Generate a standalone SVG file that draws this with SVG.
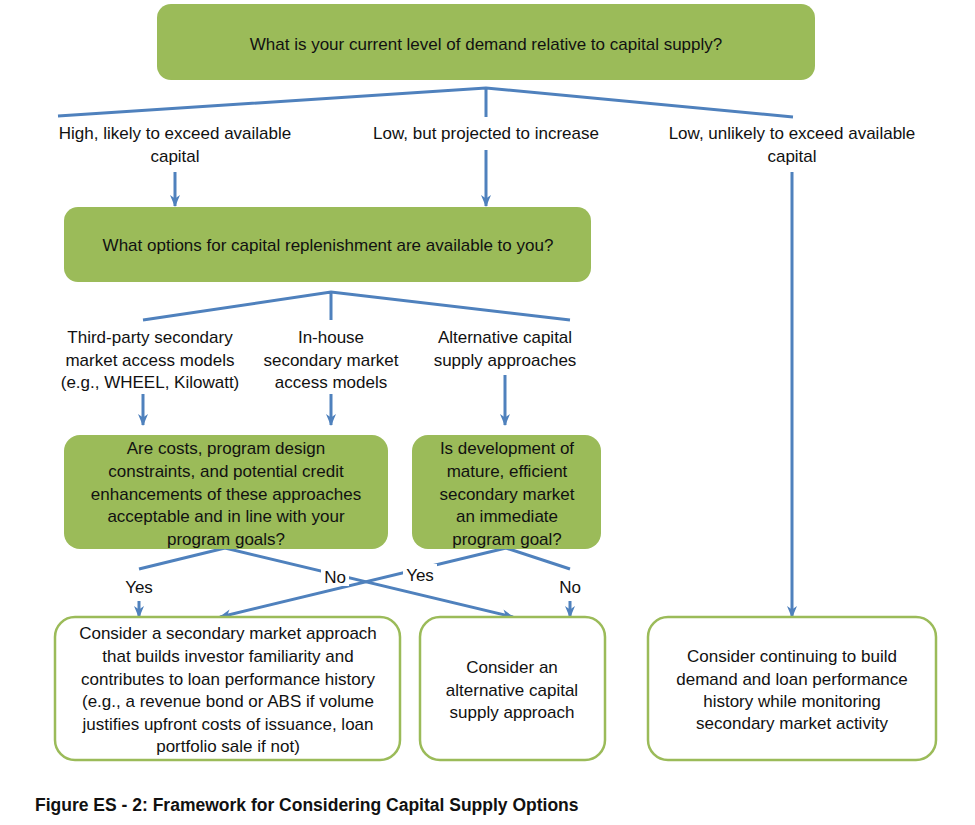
<svg xmlns="http://www.w3.org/2000/svg" width="975" height="825" viewBox="0 0 975 825">
<defs>
<marker id="ah" viewBox="0 0 12 12" refX="11" refY="6" markerWidth="12" markerHeight="12" markerUnits="userSpaceOnUse" orient="auto">
<path d="M0,1 L12,6 L0,11 L3.5,6 z" fill="#4F81BD"/>
</marker>
</defs>
<style>
text{font-family:"Liberation Sans",Arial,sans-serif;font-size:17px;fill:#111;text-anchor:middle}
.q{fill:#9BBB59}
.r{fill:#fff;stroke:#9BBB59;stroke-width:2.5}
.c{fill:none;stroke:#4F81BD;stroke-width:3}
.a{marker-end:url(#ah)}
.cap{font-weight:bold;text-anchor:start;font-size:17.5px}
</style>
<rect width="975" height="825" fill="#fff"/>
<g id="connectors">
<path class="c" d="M58,116 L486,88 L793,117 M486,88 V117"/>
<path class="c a" d="M175,172 V206"/>
<path class="c a" d="M486,150 V206"/>
<path class="c a" d="M792,172 V617"/>
<path class="c" d="M143,320 L331,292 L570,320 M331,292 V320"/>
<path class="c a" d="M143,394 V425"/>
<path class="c a" d="M331,394 V425"/>
<path class="c a" d="M505,375 V425"/>
<path class="c" d="M225,548 L139,569"/>
<path class="c a" d="M139,601 V617"/>
<path class="c a" d="M225,548 L513,617"/>
<path class="c a" d="M506,548 L220,617"/>
<path class="c" d="M506,548 L570,569"/>
<path class="c a" d="M570,601 V617"/>
</g>
<g id="q1">
<rect class="q" x="157" y="4" width="658" height="76" rx="14"/>
<text x="486" y="50">What is your current level of demand relative to capital supply?</text>
</g>
<g id="l1">
<text x="175" y="139">High, likely to exceed available</text>
<text x="175" y="162">capital</text>
</g>
<g id="l2">
<text x="486" y="139">Low, but projected to increase</text>
</g>
<g id="l3">
<text x="792" y="139">Low, unlikely to exceed available</text>
<text x="792" y="162">capital</text>
</g>
<g id="q2">
<rect class="q" x="64" y="207" width="527" height="75" rx="14"/>
<text x="328" y="251">What options for capital replenishment are available to you?</text>
</g>
<g id="l4">
<text x="150" y="343">Third-party secondary</text>
<text x="150" y="366">market access models</text>
<text x="150" y="388">(e.g., WHEEL, Kilowatt)</text>
</g>
<g id="l5">
<text x="331" y="343">In-house</text>
<text x="331" y="366">secondary market</text>
<text x="331" y="388">access models</text>
</g>
<g id="l6">
<text x="505" y="343">Alternative capital</text>
<text x="505" y="366">supply approaches</text>
</g>
<g id="q3">
<rect class="q" x="64" y="435" width="324" height="114" rx="16"/>
<text x="226" y="454">Are costs, program design</text>
<text x="226" y="477">constraints, and potential credit</text>
<text x="226" y="500">enhancements of these approaches</text>
<text x="226" y="522">acceptable and in line with your</text>
<text x="226" y="545">program goals?</text>
</g>
<g id="q4">
<rect class="q" x="412" y="435" width="189" height="114" rx="16"/>
<text x="507" y="454">Is development of</text>
<text x="507" y="477">mature, efficient</text>
<text x="507" y="500">secondary market</text>
<text x="507" y="522">an immediate</text>
<text x="507" y="545">program goal?</text>
</g>
<g id="yn">
<text x="139" y="593">Yes</text>
<rect x="321" y="566" width="28" height="20" fill="#fff"/>
<text x="335" y="583">No</text>
<rect x="403" y="564" width="34" height="20" fill="#fff"/>
<text x="420" y="581">Yes</text>
<text x="570" y="593">No</text>
</g>
<g id="o1">
<rect class="r" x="55" y="617" width="345" height="143" rx="20"/>
<text x="228" y="639">Consider a secondary market approach</text>
<text x="228" y="662">that builds investor familiarity and</text>
<text x="228" y="685">contributes to loan performance history</text>
<text x="228" y="707">(e.g., a revenue bond or ABS if volume</text>
<text x="228" y="730">justifies upfront costs of issuance, loan</text>
<text x="228" y="752">portfolio sale if not)</text>
</g>
<g id="o2">
<rect class="r" x="420" y="617" width="185" height="143" rx="20"/>
<text x="512" y="673">Consider an</text>
<text x="512" y="696">alternative capital</text>
<text x="512" y="718">supply approach</text>
</g>
<g id="o3">
<rect class="r" x="648" y="617" width="288" height="143" rx="20"/>
<text x="792" y="662">Consider continuing to build</text>
<text x="792" y="685">demand and loan performance</text>
<text x="792" y="707">history while monitoring</text>
<text x="792" y="729">secondary market activity</text>
</g>
<text class="cap" x="35" y="811">Figure ES - 2: Framework for Considering Capital Supply Options</text>
</svg>
